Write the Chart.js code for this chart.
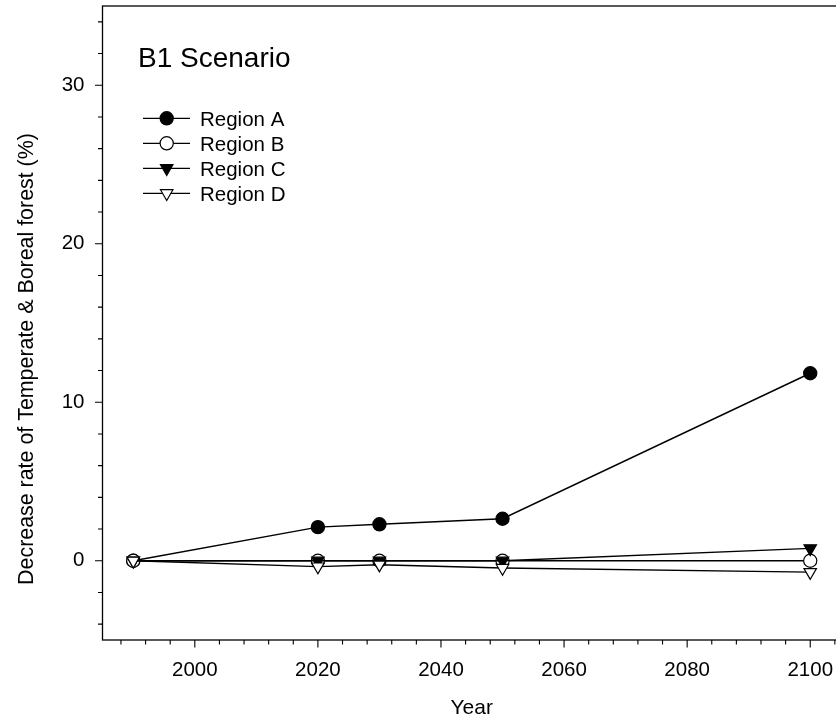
<!DOCTYPE html>
<html>
<head>
<meta charset="utf-8">
<script src="https://cdn.jsdelivr.net/npm/chart.js@4.4.1/dist/chart.umd.min.js"></script>
<style>
  html, body { margin: 0; padding: 0; background: #fff; overflow: hidden; }
  #wrap { width: 846px; height: 721px; }
</style>
</head>
<body>
<div id="wrap"><canvas id="c" width="846" height="721"></canvas></div>
<script>
// Years simulated and decrease rates (%) per region
const years = [1990, 2020, 2030, 2050, 2100];
const regionA = [0, 2.12, 2.3, 2.65, 11.83];
const regionB = [0, 0, 0, 0, 0];
const regionC = [0, 0, 0, 0, 0.78];
const regionD = [0, -0.37, -0.25, -0.46, -0.72];
const seriesNames = ['Region A', 'Region B', 'Region C', 'Region D'];

// Axis tick values
const xMajorTicks = [2000, 2020, 2040, 2060, 2080, 2100];
const yMajorTicks = [0, 10, 20, 30];
const xMinorStep = 4;
const yMinorStep = 2;

const FONT = '"Liberation Sans", Arial, Helvetica, sans-serif';
const LABEL_SIZE = 20.5;
const Y_TITLE = 'Decrease rate of Temperate & Boreal forest (%)';

// Plot frame box (the right edge runs just past the page edge)
const FRAME = { left: 102.5, right: 841, top: 6, bottom: 640 };

const markerStyles = [
  { style: 'circle', rotation: 0, radius: 6.6, fill: '#000' },
  { style: 'circle', rotation: 0, radius: 6.6, fill: '#fff' },
  { style: 'triangle', rotation: 180, radius: 7.2, fill: '#000' },
  { style: 'triangle', rotation: 180, radius: 7.2, fill: '#fff' }
];

function toPoints(vals) {
  return years.map((yr, i) => ({ x: yr, y: vals[i] }));
}

const seriesValues = [regionA, regionB, regionC, regionD];

const datasets = seriesValues.map((vals, i) => ({
  label: seriesNames[i],
  data: toPoints(vals),
  borderColor: '#000',
  borderWidth: 1.4,
  backgroundColor: markerStyles[i].fill,
  pointBackgroundColor: markerStyles[i].fill,
  pointBorderColor: '#000',
  pointBorderWidth: 1.2,
  pointStyle: markerStyles[i].style,
  pointRotation: markerStyles[i].rotation,
  pointRadius: markerStyles[i].radius,
  pointHoverRadius: markerStyles[i].radius,
  tension: 0,
  fill: false,
  order: 4 - i
}));

// Simple marker painter for the legend keys
function paintMarker(ctx, m, x, y) {
  ctx.save();
  ctx.beginPath();
  if (m.style === 'circle') {
    ctx.arc(x, y, m.radius, 0, Math.PI * 2);
  } else {
    const r = m.radius;
    let a = m.rotation * Math.PI / 180;
    for (let k = 0; k < 3; k++) {
      const px = x + Math.sin(a) * r, py = y - Math.cos(a) * r;
      if (k === 0) ctx.moveTo(px, py); else ctx.lineTo(px, py);
      a += 2 * Math.PI / 3;
    }
    ctx.closePath();
  }
  ctx.fillStyle = m.fill;
  ctx.fill();
  ctx.lineWidth = 1.2;
  ctx.strokeStyle = '#000';
  ctx.stroke();
  ctx.restore();
}

// Keep the plotting box fixed regardless of label overhang
const pinArea = {
  id: 'pinArea',
  afterLayout(chart) {
    const a = chart.chartArea;
    Object.assign(a, FRAME);
    a.width = a.right - a.left;
    a.height = a.bottom - a.top;
    const xs = chart.scales.x, ys = chart.scales.y;
    xs.left = a.left; xs.right = a.right; xs.width = a.width;
    xs.top = a.bottom;
    ys.top = a.top; ys.bottom = a.bottom; ys.height = a.height;
    ys.right = a.left;
    xs.configure();
    ys.configure();
  }
};

// Frame, outward tick marks, y title, legend and the scenario caption
const decorations = {
  id: 'decorations',
  afterDraw(chart) {
    const ctx = chart.ctx;
    const area = chart.chartArea;
    const xs = chart.scales.x, ys = chart.scales.y;
    ctx.save();
    ctx.strokeStyle = '#000';
    ctx.lineWidth = 1.3;
    ctx.strokeRect(area.left, area.top, area.right - area.left, area.bottom - area.top);

    ctx.lineWidth = 1.1;
    ctx.beginPath();
    // x ticks
    for (let v = Math.ceil(xs.min / xMinorStep) * xMinorStep; v <= xs.max; v += xMinorStep) {
      const px = xs.getPixelForValue(v);
      if (px <= area.left + 0.5) continue;
      ctx.moveTo(px, area.bottom);
      ctx.lineTo(px, area.bottom + 4.5);
    }
    xMajorTicks.forEach(v => {
      const px = xs.getPixelForValue(v);
      ctx.moveTo(px, area.bottom);
      ctx.lineTo(px, area.bottom + 7.5);
    });
    // y ticks
    for (let v = Math.ceil(ys.min / yMinorStep) * yMinorStep; v <= ys.max; v += yMinorStep) {
      const py = ys.getPixelForValue(v);
      ctx.moveTo(area.left, py);
      ctx.lineTo(area.left - 4.5, py);
    }
    yMajorTicks.forEach(v => {
      const py = ys.getPixelForValue(v);
      ctx.moveTo(area.left, py);
      ctx.lineTo(area.left - 7.5, py);
    });
    ctx.stroke();

    ctx.fillStyle = '#000';

    // y axis title
    ctx.save();
    ctx.translate(27.5, 359);
    ctx.rotate(-Math.PI / 2);
    ctx.font = '21.4px ' + FONT;
    ctx.textAlign = 'center';
    ctx.textBaseline = 'middle';
    ctx.fillText(Y_TITLE, 0, 0);
    ctx.restore();

    // caption
    ctx.font = '28px ' + FONT;
    ctx.textAlign = 'left';
    ctx.textBaseline = 'alphabetic';
    ctx.fillText('B1 Scenario', 138, 66.5);

    // legend
    ctx.font = LABEL_SIZE + 'px ' + FONT;
    const rowY0 = 118.3, rowGap = 25;
    seriesNames.forEach((name, i) => {
      const y = rowY0 + rowGap * i;
      ctx.beginPath();
      ctx.lineWidth = 1.3;
      ctx.moveTo(143, y);
      ctx.lineTo(190, y);
      ctx.stroke();
      paintMarker(ctx, markerStyles[i], 166.7, y);
      ctx.fillStyle = '#000';
      ctx.fillText(name, 200, y + 7.3);
    });
    ctx.restore();
  }
};

new Chart(document.getElementById('c'), {
  type: 'line',
  data: { datasets },
  options: {
    responsive: false,
    animation: false,
    devicePixelRatio: 1,
    layout: { padding: { top: 6, right: 3, left: 0, bottom: 0 } },
    plugins: {
      legend: { display: false },
      tooltip: { enabled: false },
      title: { display: false }
    },
    scales: {
      x: {
        type: 'linear',
        min: 1985,
        max: 2105,
        afterBuildTicks: s => { s.ticks = xMajorTicks.map(v => ({ value: v })); },
        afterFit: s => { s.height = 81; s.paddingLeft = 0; s.paddingRight = 0; },
        grid: { display: false, drawTicks: false },
        border: { display: false },
        ticks: {
          padding: 17.7,
          color: '#000',
          font: { family: FONT, size: LABEL_SIZE },
          maxRotation: 0,
          autoSkip: false,
          callback: v => String(v)
        },
        title: {
          display: true,
          text: 'Year',
          color: '#000',
          font: { family: FONT, size: 21 },
          padding: { top: 0, bottom: 0 }
        }
      },
      y: {
        type: 'linear',
        min: -5,
        max: 35,
        afterBuildTicks: s => { s.ticks = yMajorTicks.map(v => ({ value: v })); },
        afterFit: s => { s.width = 102.5; s.paddingTop = 0; s.paddingBottom = 0; },
        grid: { display: false, drawTicks: false },
        border: { display: false },
        ticks: {
          padding: 18,
          color: '#000',
          font: { family: FONT, size: LABEL_SIZE },
          autoSkip: false,
          callback: v => String(v)
        },
        title: { display: false }
      }
    }
  },
  plugins: [pinArea, decorations]
});
</script>
</body>
</html>
